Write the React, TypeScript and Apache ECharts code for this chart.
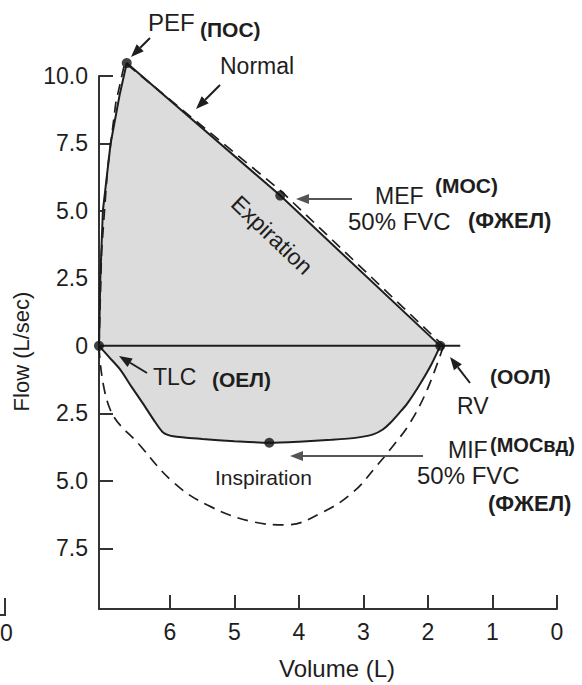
import React, { useEffect, useRef } from "react";
import * as echarts from "echarts";

// Axis ticks
const volumeTicks = [0, 1, 2, 3, 4, 5, 6];
const flowTicks = [-7.5, -5, -2.5, 0, 2.5, 5, 7.5, 10];

// Patient loop - expiration (solid)
const expVol = [7.1, 7.08, 7.04, 6.92, 6.78, 6.67, 4.29, 1.81];
const expFlow = [0, 2.5, 5.0, 7.5, 9.3, 10.48, 5.57, 0];

// Patient loop - inspiration (solid), negative = inspiratory flow
const inspVol = [7.1, 6.95, 6.77, 6.6, 6.42, 6.25, 6.11, 5.95, 5.5, 5.0, 4.46, 4.0, 3.5, 3.1, 2.85, 2.7, 2.59, 2.45, 2.32, 2.12, 1.95, 1.81];
const inspFlow = [0, -0.4, -0.88, -1.5, -2.13, -2.75, -3.2, -3.35, -3.45, -3.53, -3.59, -3.55, -3.48, -3.4, -3.28, -3.1, -2.87, -2.5, -2.13, -1.4, -0.7, 0];

// Normal loop (dashed)
const normExpVol = [7.1, 7.06, 6.97, 6.84, 6.7, 4.28, 1.76];
const normExpFlow = [0, 3.5, 6.5, 9.0, 10.5, 5.74, 0];
const normInspVol = [1.76, 2.01, 2.28, 2.54, 2.79, 3.16, 3.63, 4.19, 4.71, 5.42, 5.95, 6.46, 6.93, 7.1];
const normInspFlow = [0, -1.61, -2.86, -3.7, -4.43, -5.42, -6.16, -6.63, -6.52, -5.9, -5.05, -3.7, -2.34, 0];

// Key points: PEF, MEF, TLC, RV, MIF
const pointVol = [6.67, 4.29, 7.1, 1.81, 4.46];
const pointFlow = [10.48, 5.57, 0, 0, -3.59];

// Zero-flow line
const zeroVol = [7.1, 1.5];
const zeroFlow = [0, 0];

const FONT = "'Liberation Sans', Arial, Helvetica, sans-serif";
const INK = "#1e1e1e";

function arrow(x1: number, y1: number, x2: number, y2: number, color = INK) {
  const ang = Math.atan2(y2 - y1, x2 - x1);
  const L = 13;
  const W = 5;
  const bx = x2 - L * Math.cos(ang);
  const by = y2 - L * Math.sin(ang);
  const px = -Math.sin(ang) * W;
  const py = Math.cos(ang) * W;
  return [
    { type: "line", shape: { x1, y1, x2: bx, y2: by }, style: { stroke: color, lineWidth: 2 }, z: 50 },
    {
      type: "polygon",
      shape: { points: [[x2, y2], [bx + px, by + py], [bx - px, by - py]] },
      style: { fill: color },
      z: 50,
    },
  ];
}

function txt(text: string, x: number, y: number, size: number, bold = false, extra: any = {}) {
  return {
    type: "text",
    x,
    y,
    z: 60,
    style: {
      text,
      fontSize: size,
      fontWeight: bold ? "bold" : "normal",
      fontFamily: FONT,
      fill: INK,
      textVerticalAlign: "middle",
      textAlign: "left",
      ...extra,
    },
  };
}

export default function App() {
  const ref = useRef<HTMLDivElement>(null);

  useEffect(() => {
    if (!ref.current) return;
    const chart = echarts.init(ref.current, undefined, { renderer: "svg" });

    const zip = (a: number[], b: number[]) => a.map((v, i) => [v, b[i]]);
    const loopVol = expVol.concat(inspVol.slice().reverse());
    const loopFlow = expFlow.concat(inspFlow.slice().reverse());

    const axisStyle = { color: "#333", width: 2 };

    const option: any = {
      animation: false,
      backgroundColor: "#ffffff",
      grid: { left: 99, right: 25, top: 76, bottom: 70, containLabel: false },
      xAxis: {
        type: "value",
        min: 0,
        max: 7.1,
        inverse: true,
        interval: 1,
        name: "Volume (L)",
        nameLocation: "middle",
        nameGap: 47,
        nameTextStyle: { fontSize: 24, color: INK, fontFamily: FONT, padding: [0, 0, 0, 18] },
        axisLine: { show: true, onZero: false, lineStyle: axisStyle },
        axisTick: { show: true, inside: true, length: 14, lineStyle: axisStyle, customValues: volumeTicks },
        axisLabel: {
          fontSize: 23,
          color: INK,
          fontFamily: FONT,
          margin: 11,
          customValues: volumeTicks,
        },
        splitLine: { show: false },
      },
      yAxis: {
        type: "value",
        min: -9.75,
        max: 10,
        name: "Flow (L/sec)",
        nameLocation: "middle",
        nameRotate: 90,
        nameGap: 66,
        nameTextStyle: { fontSize: 22, color: INK, fontFamily: FONT, padding: [0, 18, 0, 0] },
        axisLine: { show: true, onZero: false, lineStyle: axisStyle },
        axisTick: { show: true, inside: true, length: 14, lineStyle: axisStyle, customValues: flowTicks },
        axisLabel: {
          fontSize: 23,
          color: INK,
          fontFamily: FONT,
          margin: 11,
          customValues: flowTicks,
          formatter: (v: number) => (v === 0 ? "0" : Math.abs(v).toFixed(1)),
        },
        splitLine: { show: false },
      },
      series: [
        {
          type: "custom",
          name: "fill",
          z: 1,
          clip: false,
          data: [[loopVol[0], loopFlow[0]]],
          renderItem: (params: any, api: any) => {
            if (params.dataIndex !== 0) return null;
            const pts = loopVol.map((v, i) => api.coord([v, loopFlow[i]]));
            return { type: "polygon", shape: { points: pts }, style: { fill: "#dcdcdc" } };
          },
          silent: true,
        },
        {
          type: "line",
          name: "Normal expiration",
          data: zip(normExpVol, normExpFlow),
          showSymbol: false,
          clip: false,
          z: 3,
          lineStyle: { color: INK, width: 1.7, type: [11, 7] },
        },
        {
          type: "line",
          name: "Normal inspiration",
          data: zip(normInspVol, normInspFlow),
          smooth: 0.4,
          showSymbol: false,
          clip: false,
          z: 3,
          lineStyle: { color: INK, width: 1.7, type: [11, 7] },
        },
        {
          type: "line",
          name: "Zero",
          data: zip(zeroVol, zeroFlow),
          showSymbol: false,
          clip: false,
          z: 4,
          lineStyle: { color: INK, width: 2 },
        },
        {
          type: "line",
          name: "Expiration",
          data: zip(expVol, expFlow),
          showSymbol: false,
          clip: false,
          z: 5,
          lineStyle: { color: INK, width: 2 },
        },
        {
          type: "line",
          name: "Inspiration",
          data: zip(inspVol, inspFlow),
          smooth: 0.25,
          showSymbol: false,
          clip: false,
          z: 5,
          lineStyle: { color: INK, width: 2 },
        },
        {
          type: "scatter",
          name: "Points",
          data: zip(pointVol, pointFlow),
          symbolSize: 10,
          clip: false,
          z: 10,
          itemStyle: { color: "#111" },
        },
      ],
      graphic: [
        ...arrow(150, 38, 131, 57),
        ...arrow(220, 85, 196, 109),
        ...arrow(352, 199, 296, 199, "#555"),
        ...arrow(470, 383, 450, 357),
        ...arrow(147, 373, 119, 356),
        ...arrow(423, 456, 290, 456, "#555"),
        txt("PEF", 148, 22, 24),
        txt("(ПОС)", 200, 29, 21, true),
        txt("Normal", 220, 66, 23),
        txt("MEF", 375, 196, 23),
        txt("(МОС)", 435, 185, 21, true),
        txt("50% FVC", 348, 221, 24),
        txt("(ФЖЕЛ)", 468, 220, 22, true),
        {
          type: "text",
          x: 272,
          y: 235,
          rotation: -0.76,
          z: 60,
          style: {
            text: "Expiration",
            fontSize: 23,
            fontFamily: FONT,
            fill: INK,
            textAlign: "center",
            textVerticalAlign: "middle",
          },
        },
        txt("(ООЛ)", 490, 376, 21, true),
        txt("RV", 457, 406, 23),
        txt("TLC", 153, 377, 23),
        txt("(ОЕЛ)", 212, 379, 21, true),
        txt("Inspiration", 215, 477, 21),
        txt("MIF", 448, 450, 23),
        txt("(МОСвд)", 490, 445, 20, true),
        txt("50% FVC", 417, 475, 24),
        txt("(ФЖЕЛ)", 488, 503, 22, true),
        txt("0", 0, 633, 23),
        {
          type: "polyline",
          shape: { points: [[5, 598], [5, 615], [0, 615]] },
          style: { stroke: "#333", lineWidth: 2, fill: null },
        },
      ],
    };

    chart.setOption(option);
    return () => chart.dispose();
  }, []);

  return (
    <div
      ref={ref}
      style={{ position: "fixed", left: 0, top: 0, width: 582, height: 685, background: "#fff" }}
    />
  );
}
